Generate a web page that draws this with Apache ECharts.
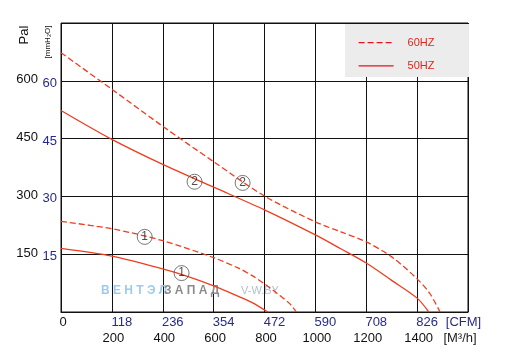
<!DOCTYPE html>
<html>
<head>
<meta charset="utf-8">
<script src="https://cdn.jsdelivr.net/npm/echarts@6/dist/echarts.min.js"></script>
<style>
html,body{margin:0;padding:0;background:#fff;}
#chart{width:510px;height:356px;}
</style>
</head>
<body>
<div id="chart"></div>
<script>
// Flow (m3/h) and pressure (Pa)
const curve2_60_flow = [0, 200, 400, 600, 800, 1000, 1100, 1200, 1300, 1400, 1450, 1490];
const curve2_60_pres = [673, 578, 482, 390, 301, 234, 208, 182, 143, 86, 48, 0];
const curve2_50_flow = [0, 200, 400, 600, 800, 1000, 1100, 1200, 1300, 1400, 1446];
const curve2_50_pres = [523, 448, 383, 324, 265, 200, 164, 127, 82, 36, 0];
const curve1_60_flow = [0, 200, 400, 600, 700, 750, 800, 850, 900, 925];
const curve1_60_pres = [235, 216, 185, 141, 113, 95, 73, 48, 21, 0];
const curve1_50_flow = [0, 200, 400, 500, 600, 700, 750, 813];
const curve1_50_pres = [165, 145, 112, 92, 68, 40, 25, 0];

// Curve number markers (flow, pressure, label)
const markerFlow = [525, 714, 329, 474];
const markerPres = [338, 335, 195, 101];
const markerText = ['2', '2', '1', '1'];

// Tick labels
const cfmTicks = ['0', '118', '236', '354', '472', '590', '708', '826', '[CFM]'];
const m3hTicks = ['', '200', '400', '600', '800', '1000', '1200', '1400', '[M³/h]'];
const paTicks = ['', '150', '300', '450', '600', ''];
const mmTicks = ['', '15', '30', '45', '60', ''];

const zip = (a, b) => a.map((v, i) => [v, b[i]]);
const RED = '#f03c1e';
const BLUE = '#262a8c';
const FONT = 'Liberation Sans, Arial, sans-serif';

const chart = echarts.init(document.getElementById('chart'), null, {renderer: 'canvas'});

function lineSeries(name, data, dashed) {
  return {
    name: name, type: 'line', data: data, symbol: 'none', showSymbol: false,
    smooth: 0.3,
    xAxisIndex: 0, yAxisIndex: 0, z: 2,
    lineStyle: {color: RED, width: 1.3, type: dashed ? [6, 3] : 'solid'},
    itemStyle: {color: RED}
  };
}

chart.setOption({
  animation: false,
  backgroundColor: '#fff',
  grid: {left: 61, top: 23, width: 407, height: 289, show: true, borderColor: '#111', borderWidth: 1, backgroundColor: 'transparent'},
  legend: {
    orient: 'vertical', left: 353, top: 32, itemWidth: 35, itemHeight: 14, itemGap: 12,
    z: 10,
    itemStyle: {opacity: 0, borderWidth: 0},
    data: [
      {name: '60HZ', lineStyle: {color: '#e3141c', width: 1.2}},
      {name: '50HZ', lineStyle: {color: '#e3141c', width: 1.2}}
    ],
    textStyle: {color: '#e3231b', fontSize: 11, fontFamily: FONT, padding: [0, 0, 0, 9]}
  },
  xAxis: [
    {
      type: 'value', min: 0, max: 1600, interval: 200, position: 'bottom',
      axisLine: {show: true, lineStyle: {color: '#111'}},
      axisTick: {show: false},
      splitLine: {show: true, lineStyle: {color: '#111', width: 1}},
      axisLabel: {
        margin: 4, fontSize: 13, fontFamily: FONT,
        formatter: function (v) {
          const i = Math.round(v / 200);
          const t = cfmTicks[i];
          if (i === 0) return '{k0|' + t + '}';
          if (i === cfmTicks.length - 1) return '{bu|' + t + '}';
          return '{b|' + t + '}';
        },
        rich: {
          k0: {color: '#111', fontSize: 13, fontFamily: FONT, padding: [0, 0, 0, 4]},
          b: {color: BLUE, fontSize: 13, fontFamily: FONT, padding: [0, 0, 0, 20]},
          bu: {color: BLUE, fontSize: 13, fontFamily: FONT, padding: [0, 9, 0, 0]}
        }
      }
    },
    {
      type: 'value', min: 0, max: 1600, interval: 200, position: 'bottom', offset: 16,
      axisLine: {show: false}, axisTick: {show: false}, splitLine: {show: false},
      axisLabel: {
        margin: 4, fontSize: 13, fontFamily: FONT, color: '#111',
        formatter: function (v) {
          const i = Math.round(v / 200);
          const t = m3hTicks[i];
          if (!t) return '';
          if (i === m3hTicks.length - 1) return '{u|' + t + '}';
          return '{k|' + t + '}';
        },
        rich: {
          k: {color: '#111', fontSize: 13, fontFamily: FONT, padding: [0, 0, 0, 3]},
          u: {color: '#222', fontSize: 13, fontFamily: FONT, padding: [0, 16, 0, 0]}
        }
      }
    }
  ],
  yAxis: [
    {
      type: 'value', min: 0, max: 750, interval: 150, position: 'left',
      axisLine: {show: false}, axisTick: {show: false},
      splitLine: {show: true, lineStyle: {color: '#111', width: 1}},
      axisLabel: {
        margin: 4, fontSize: 13, fontFamily: FONT,
        formatter: function (v) {
          const t = mmTicks[Math.round(v / 150)];
          return t ? '{b|' + t + '}' : '';
        },
        rich: {b: {color: BLUE, fontSize: 13, fontFamily: FONT, padding: [5, 0, 0, 0]}}
      }
    },
    {
      type: 'value', min: 0, max: 750, interval: 150, position: 'left',
      axisLine: {show: false}, axisTick: {show: false}, splitLine: {show: false},
      axisLabel: {
        margin: 23, fontSize: 13, fontFamily: FONT,
        formatter: function (v) {
          const t = paTicks[Math.round(v / 150)];
          return t ? '{k|' + t + '}' : '';
        },
        rich: {k: {color: '#111', fontSize: 13, fontFamily: FONT, padding: [0, 0, 2, 0]}}
      }
    }
  ],
  graphic: [
    {type: 'rect', z: 3, shape: {x: 345, y: 24, width: 124, height: 53}, style: {fill: '#ececec'}},
    {type: 'text', x: 24, y: 35, rotation: Math.PI / 2,
     style: {text: 'Pal', fill: '#111', font: '13px ' + FONT, textAlign: 'center', textVerticalAlign: 'middle'}},
    {type: 'text', x: 48, y: 42, rotation: Math.PI / 2,
     style: {text: '[mmH₂O]', fill: '#111', font: '8px ' + FONT, textAlign: 'center', textVerticalAlign: 'middle'}},
    {type: 'text', x: 101, y: 291, z: 1,
     style: {text: 'В Е Н Т Э Л', fill: '#9dcbec', font: 'bold 12px ' + FONT, textAlign: 'left', textVerticalAlign: 'middle'}},
    {type: 'text', x: 164, y: 291, z: 1,
     style: {text: 'З А П А Д', fill: '#8c8c8c', font: 'bold 12px ' + FONT, textAlign: 'left', textVerticalAlign: 'middle'}},
    {type: 'text', x: 241, y: 291, z: 1,
     style: {text: 'V-W.BY', fill: '#b0c0d2', font: '11px ' + FONT, textAlign: 'left', textVerticalAlign: 'middle'}}
  ],
  series: [
    lineSeries('60HZ', zip(curve2_60_flow, curve2_60_pres), true),
    lineSeries('50HZ', zip(curve2_50_flow, curve2_50_pres), false),
    lineSeries('60HZ', zip(curve1_60_flow, curve1_60_pres), true),
    lineSeries('50HZ', zip(curve1_50_flow, curve1_50_pres), false),
    {
      name: 'markers', type: 'scatter', z: 5,
      data: markerFlow.map((x, i) => ({value: [x, markerPres[i]], label: {formatter: markerText[i]}})),
      symbol: 'circle', symbolSize: 15,
      itemStyle: {color: 'rgba(255,255,255,0)', borderColor: '#555', borderWidth: 1},
      label: {show: true, position: 'inside', color: '#222', fontSize: 12, fontFamily: FONT},
      emphasis: {disabled: true}
    }
  ]
});
</script>
</body>
</html>
